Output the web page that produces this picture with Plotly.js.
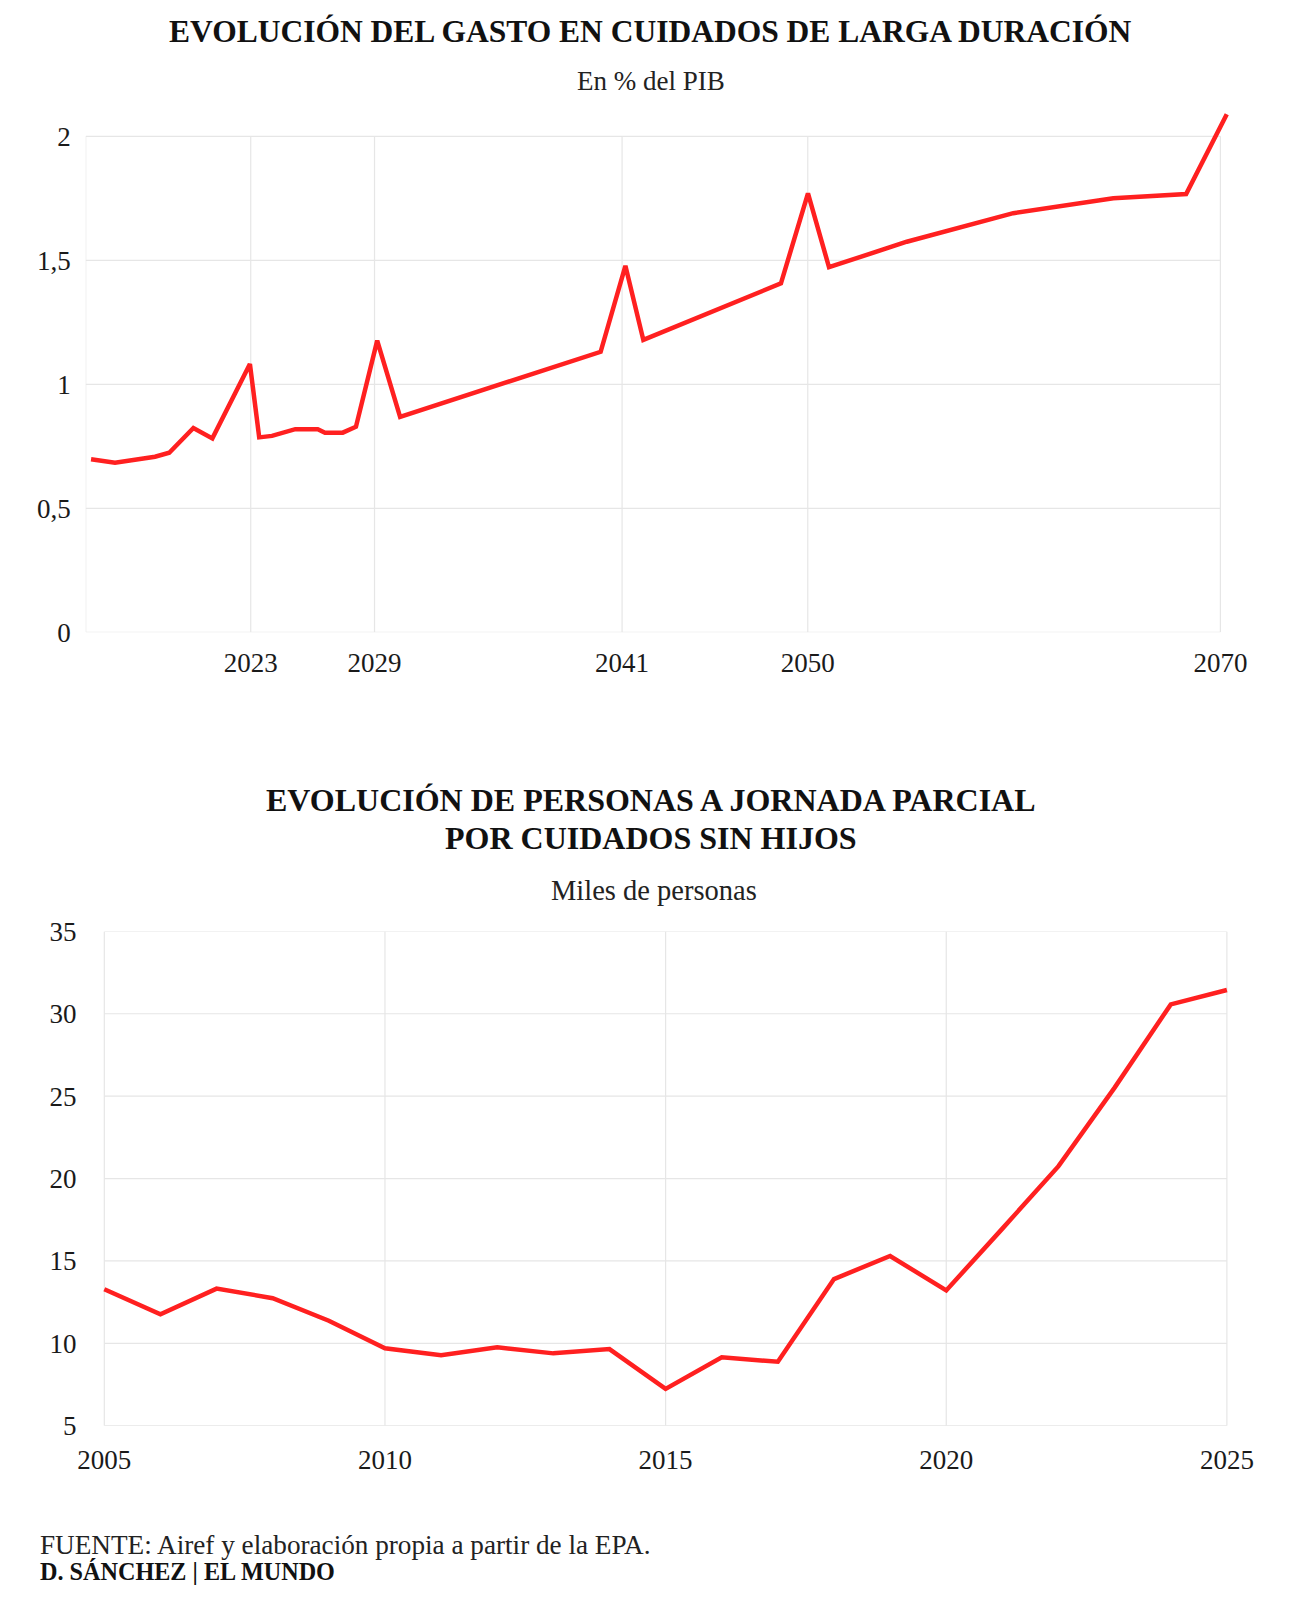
<!DOCTYPE html>
<html>
<head>
<meta charset="utf-8">
<script src="https://cdn.plot.ly/plotly-3.0.1.min.js"></script>
<style>
  html, body { margin: 0; padding: 0; background: #ffffff; }
  #chart { width: 1292px; height: 1600px; }
</style>
</head>
<body>
<div id="chart"></div>
<script>
// ---- Chart 1: Evolución del gasto en cuidados de larga duración (% del PIB)
const gastoYears = [2015.26, 2016.42, 2018.36, 2019.05, 2020.22, 2021.14, 2022.96, 2023.41, 2024.03, 2025.16, 2026.25, 2026.60, 2027.46, 2028.10, 2029.13, 2030.24, 2039.96, 2041.16, 2042.03, 2048.70, 2050.01, 2051.03, 2054.80, 2059.96, 2064.81, 2068.34, 2070.31];
const gastoValues = [0.698, 0.684, 0.708, 0.724, 0.824, 0.782, 1.082, 0.786, 0.792, 0.819, 0.819, 0.805, 0.805, 0.829, 1.176, 0.869, 1.131, 1.478, 1.179, 1.407, 1.770, 1.472, 1.575, 1.690, 1.750, 1.767, 2.089];
const gastoTickYears = [2023, 2029, 2041, 2050, 2070];
const gastoTickLabels = ["2023", "2029", "2041", "2050", "2070"];
const gastoYTicks = [0, 0.5, 1, 1.5, 2];

// ---- Chart 2: Personas a jornada parcial por cuidados sin hijos (miles)
const parcialYears = [2005, 2006, 2007, 2008, 2009, 2010, 2011, 2012, 2013, 2014, 2015, 2016, 2017, 2018, 2019, 2020, 2021, 2022, 2023, 2024, 2025];
const parcialValues = [13.28, 11.76, 13.32, 12.74, 11.37, 9.70, 9.27, 9.76, 9.39, 9.65, 7.23, 9.15, 8.88, 13.90, 15.30, 13.21, 16.96, 20.75, 25.52, 30.57, 31.44];
const parcialTickYears = [2005, 2010, 2015, 2020, 2025];
const parcialTickLabels = ["2005", "2010", "2015", "2020", "2025"];
const parcialYTicks = [5, 10, 15, 20, 25, 30, 35];

const SERIF = '"Liberation Serif", "DejaVu Serif", serif';
const RED = '#ff2020';
const GRID = '#e6e6e6';
const TEXT = '#1a1a1a';

// gridlines as layout shapes (grid box limited to the labelled range)
const shapes = [];
function gridBox(xref, yref, xMin, xMax, yMin, yMax, xs, ys) {
  ys.forEach(v => shapes.push({type: 'line', layer: 'below', xref: xref, yref: yref,
    x0: xMin, x1: xMax, y0: v, y1: v, line: {color: GRID, width: 1.2}}));
  xs.forEach(v => shapes.push({type: 'line', layer: 'below', xref: xref, yref: yref,
    x0: v, x1: v, y0: yMin, y1: yMax, line: {color: GRID, width: 1.2}}));
}
gridBox('x', 'y', 2015, 2070, 0, 2, [2015].concat(gastoTickYears), gastoYTicks);
gridBox('x2', 'y2', 2005, 2025, 5, 35, parcialTickYears, parcialYTicks);

const traces = [
  {x: gastoYears, y: gastoValues, xaxis: 'x', yaxis: 'y', type: 'scatter', mode: 'lines',
   line: {color: RED, width: 4.5}, hoverinfo: 'skip'},
  {x: parcialYears, y: parcialValues, xaxis: 'x2', yaxis: 'y2', type: 'scatter', mode: 'lines',
   line: {color: RED, width: 4.5}, hoverinfo: 'skip'}
];

const tickFont = {family: SERIF, size: 27, color: TEXT};
const axBase = {showgrid: false, zeroline: false, showline: false, ticks: '', fixedrange: true, tickfont: tickFont};

const layout = {
  width: 1292, height: 1600,
  margin: {l: 0, r: 0, t: 0, b: 0},
  paper_bgcolor: '#ffffff', plot_bgcolor: 'rgba(0,0,0,0)',
  separators: ',.',
  showlegend: false,
  xaxis: Object.assign({}, axBase, {domain: [0.06633, 0.95255], range: [2015, 2070.5],
    tickmode: 'array', tickvals: gastoTickYears, ticktext: gastoTickLabels, ticklabelstandoff: 12, anchor: 'y'}),
  yaxis: Object.assign({}, axBase, {domain: [0.60481, 0.93031], range: [0, 2.1],
    tickmode: 'array', tickvals: gastoYTicks, ticklabelstandoff: 14, anchor: 'x'}),
  xaxis2: Object.assign({}, axBase, {domain: [0.07856, 0.95178], range: [2004.95, 2025.05],
    tickmode: 'array', tickvals: parcialTickYears, ticktext: parcialTickLabels, ticklabelstandoff: 15, anchor: 'y2'}),
  yaxis2: Object.assign({}, axBase, {domain: [0.10894, 0.41788], range: [5, 35],
    tickmode: 'array', tickvals: parcialYTicks, ticklabelstandoff: 24, anchor: 'x2'}),
  shapes: shapes,
  annotations: [
    {text: '<b>EVOLUCIÓN DEL GASTO EN CUIDADOS DE LARGA DURACIÓN</b>', xref: 'paper', yref: 'paper',
     x: 0.5031, y: 0.98025, xanchor: 'center', yanchor: 'middle', showarrow: false,
     font: {family: SERIF, size: 31.5, color: '#111111'}},
    {text: 'En % del PIB', xref: 'paper', yref: 'paper', x: 0.5039, y: 0.94963,
     xanchor: 'center', yanchor: 'middle', showarrow: false, font: {family: SERIF, size: 27, color: '#222222'}},
    {text: '<b>EVOLUCIÓN DE PERSONAS A JORNADA PARCIAL</b>', xref: 'paper', yref: 'paper',
     x: 0.5039, y: 0.5, xanchor: 'center', yanchor: 'middle', showarrow: false,
     font: {family: SERIF, size: 32, color: '#111111'}},
    {text: '<b>POR CUIDADOS SIN HIJOS</b>', xref: 'paper', yref: 'paper',
     x: 0.5039, y: 0.47625, xanchor: 'center', yanchor: 'middle', showarrow: false,
     font: {family: SERIF, size: 32, color: '#111111'}},
    {text: 'Miles de personas', xref: 'paper', yref: 'paper', x: 0.5065, y: 0.44375,
     xanchor: 'center', yanchor: 'middle', showarrow: false, font: {family: SERIF, size: 28.5, color: '#222222'}},
    {text: 'FUENTE: Airef y elaboración propia a partir de la EPA.', xref: 'paper', yref: 'paper',
     x: 0.0295, y: 0.03438, xanchor: 'left', yanchor: 'middle', showarrow: false,
     font: {family: SERIF, size: 27.2, color: '#222222'}},
    {text: '<b>D. SÁNCHEZ | EL MUNDO</b>', xref: 'paper', yref: 'paper',
     x: 0.0295, y: 0.01775, xanchor: 'left', yanchor: 'middle', showarrow: false,
     font: {family: SERIF, size: 24.2, color: '#111111'}}
  ]
};

Plotly.newPlot('chart', traces, layout, {staticPlot: true, displayModeBar: false});
</script>
</body>
</html>
